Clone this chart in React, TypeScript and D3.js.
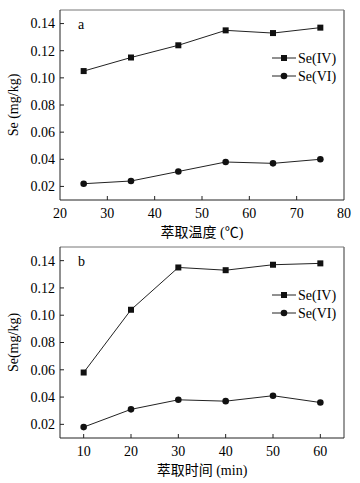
import React from "react";
import * as d3 from "d3";

const tempX = [25, 35, 45, 55, 65, 75];
const tempSe4 = [0.105, 0.115, 0.124, 0.135, 0.133, 0.137];
const tempSe6 = [0.022, 0.024, 0.031, 0.038, 0.037, 0.040];

const timeX = [10, 20, 30, 40, 50, 60];
const timeSe4 = [0.058, 0.104, 0.135, 0.133, 0.137, 0.138];
const timeSe6 = [0.018, 0.031, 0.038, 0.037, 0.041, 0.036];

const yTicks = [0.02, 0.04, 0.06, 0.08, 0.10, 0.12, 0.14];
const tempTicks = [20, 30, 40, 50, 60, 70, 80];
const timeTicks = [10, 20, 30, 40, 50, 60];
const legendLabels = ["Se(IV)", "Se(VI)"];

const FONT = "Liberation Serif";
const CJK = "Liberation Serif, Noto Sans CJK SC";

type PanelProps = {
  top: number;
  bottom: number;
  xDomain: [number, number];
  xTicks: number[];
  xs: number[];
  s4: number[];
  s6: number[];
  letter: string;
  yTitle: string;
  xTitle: string;
};

function Panel({ top, bottom, xDomain, xTicks, xs, s4, s6, letter, yTitle, xTitle }: PanelProps) {
  const left = 60;
  const right = 344;
  const x = d3.scaleLinear().domain(xDomain).range([left, right]);
  const y = d3.scaleLinear().domain([0.01, 0.15]).range([bottom, top]);
  const line = d3
    .line<number>()
    .x((_, i) => x(xs[i]))
    .y((d) => y(d));
  const tick = 4;
  const legY1 = top + 48;
  const legY2 = legY1 + 18;
  return (
    <g>
      <line x1={right} x2={right} y1={top} y2={bottom} stroke="#777" strokeWidth={1.5} />
      <line x1={left} x2={right} y1={top} y2={top} stroke="#777" strokeWidth={1} />
      <line x1={left} x2={left} y1={top} y2={bottom} stroke="#222" strokeWidth={1} />
      <line x1={left} x2={right} y1={bottom} y2={bottom} stroke="#222" strokeWidth={1} />
      {yTicks.map((t) => (
        <g key={"y" + t}>
          <line x1={left} x2={left + tick} y1={y(t)} y2={y(t)} stroke="#222" />
          <text x={left - 5} y={y(t)} dy="0.35em" textAnchor="end" fontSize={14} fontFamily={FONT} fill="#000">
            {t.toFixed(2)}
          </text>
        </g>
      ))}
      {xTicks.map((t) => (
        <g key={"x" + t}>
          {t > xDomain[0] && t < xDomain[1] && (
            <line x1={x(t)} x2={x(t)} y1={bottom} y2={bottom - tick} stroke="#222" />
          )}
          <text x={x(t)} y={bottom + 18} textAnchor="middle" fontSize={14} fontFamily={FONT} fill="#000">
            {t}
          </text>
        </g>
      ))}
      <text
        transform={`translate(${18},${(top + bottom) / 2}) rotate(-90)`}
        textAnchor="middle"
        fontSize={14}
        fontFamily={FONT}
        fill="#000"
      >
        {yTitle}
      </text>
      <text x={202} y={bottom + 37} textAnchor="middle" fontSize={14} fontFamily={CJK} fill="#000">
        {xTitle}
      </text>
      <text x={78} y={top + 19} fontSize={14} fontFamily={FONT} fill="#000">
        {letter}
      </text>
      <path d={line(s4) || ""} fill="none" stroke="#222" strokeWidth={1} />
      <path d={line(s6) || ""} fill="none" stroke="#222" strokeWidth={1} />
      {s4.map((v, i) => (
        <rect key={"s" + i} x={x(xs[i]) - 3} y={y(v) - 3} width={6} height={6} fill="#111" />
      ))}
      {s6.map((v, i) => (
        <circle key={"c" + i} cx={x(xs[i])} cy={y(v)} r={3.3} fill="#111" />
      ))}
      <line x1={272} x2={296} y1={legY1} y2={legY1} stroke="#222" />
      <rect x={281} y={legY1 - 3} width={6} height={6} fill="#111" />
      <text x={298} y={legY1} dy="0.35em" fontSize={14} fontFamily={FONT} fill="#000">
        {legendLabels[0]}
      </text>
      <line x1={272} x2={296} y1={legY2} y2={legY2} stroke="#222" />
      <circle cx={284} cy={legY2} r={3.3} fill="#111" />
      <text x={298} y={legY2} dy="0.35em" fontSize={14} fontFamily={FONT} fill="#000">
        {legendLabels[1]}
      </text>
    </g>
  );
}

export default function App() {
  return (
    <svg width={360} height={483} style={{ position: "absolute", left: 0, top: 0, background: "#fff" }}>
      <rect width={360} height={483} fill="#fff" />
      <Panel
        top={10}
        bottom={200}
        xDomain={[20, 80]}
        xTicks={tempTicks}
        xs={tempX}
        s4={tempSe4}
        s6={tempSe6}
        letter="a"
        yTitle="Se (mg/kg)"
        xTitle="萃取温度 (℃)"
      />
      <Panel
        top={247}
        bottom={438}
        xDomain={[5, 65]}
        xTicks={timeTicks}
        xs={timeX}
        s4={timeSe4}
        s6={timeSe6}
        letter="b"
        yTitle="Se(mg/kg)"
        xTitle="萃取时间 (min)"
      />
    </svg>
  );
}
